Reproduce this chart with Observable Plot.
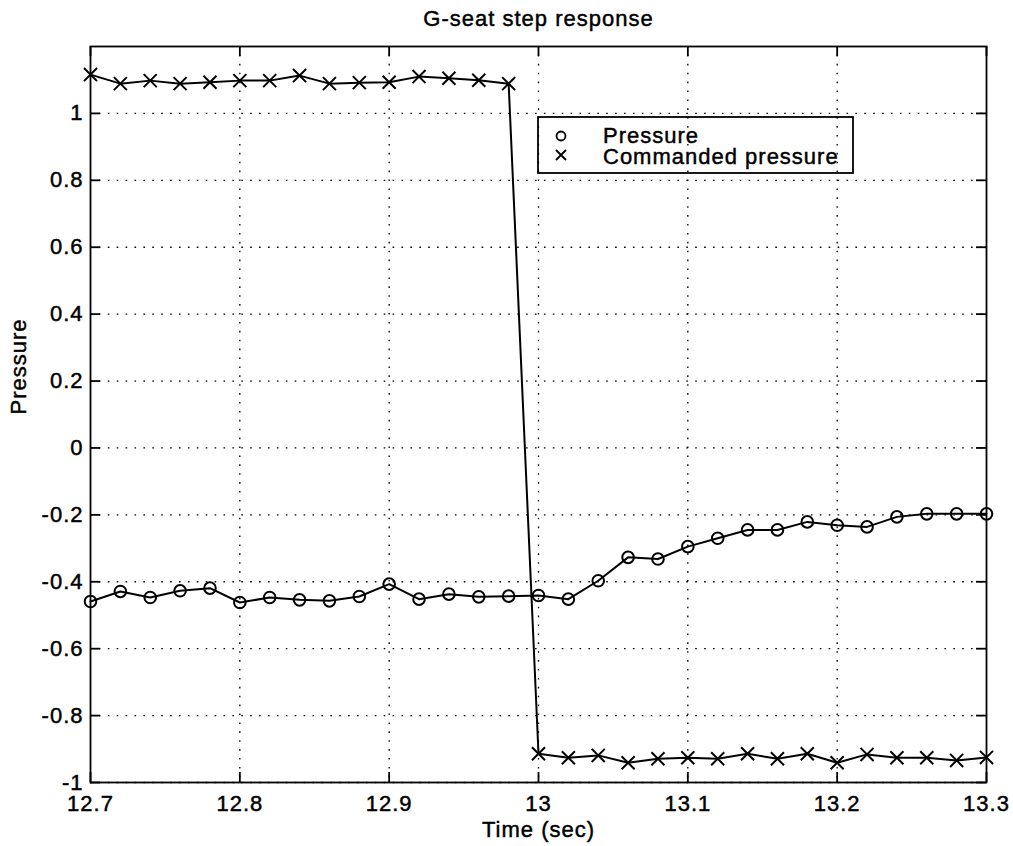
<!DOCTYPE html>
<html>
<head>
<meta charset="utf-8">
<script src="https://cdn.jsdelivr.net/npm/d3@7"></script>
<script src="https://cdn.jsdelivr.net/npm/@observablehq/plot@0.6"></script>
<style>
  html, body { margin: 0; padding: 0; background: #fff; }
  #chart svg { display: block; }
  #chart svg text { stroke: black; stroke-width: 0.45px; }
</style>
</head>
<body>
<div id="chart"></div>
<script>
const titleText = "G-seat step response";
const xLabel = "Time (sec)";
const yLabel = "Pressure";
const seriesNames = ["Pressure", "Commanded pressure"];

const time = [12.70, 12.72, 12.74, 12.76, 12.78, 12.80, 12.82, 12.84, 12.86, 12.88,
              12.90, 12.92, 12.94, 12.96, 12.98, 13.00, 13.02, 13.04, 13.06, 13.08,
              13.10, 13.12, 13.14, 13.16, 13.18, 13.20, 13.22, 13.24, 13.26, 13.28, 13.30];

const pressure = [-0.459, -0.429, -0.447, -0.427, -0.419, -0.462, -0.447, -0.454, -0.457, -0.444,
                  -0.407, -0.452, -0.437, -0.445, -0.443, -0.441, -0.452, -0.397, -0.327, -0.332,
                  -0.295, -0.270, -0.245, -0.245, -0.221, -0.231, -0.236, -0.206, -0.197, -0.197, -0.197];

const commanded = [1.116, 1.089, 1.098, 1.089, 1.093, 1.098, 1.098, 1.113, 1.089, 1.092,
                   1.093, 1.110, 1.105, 1.099, 1.089, -0.914, -0.926, -0.919, -0.941, -0.929,
                   -0.926, -0.929, -0.914, -0.929, -0.914, -0.941, -0.916, -0.926, -0.926, -0.934, -0.925];

const xTicks = [12.7, 12.8, 12.9, 13, 13.1, 13.2, 13.3];
const yTicks = [-1, -0.8, -0.6, -0.4, -0.2, 0, 0.2, 0.4, 0.6, 0.8, 1];

const pressureData = time.map((t, i) => ({t, v: pressure[i]}));
const commandedData = time.map((t, i) => ({t, v: commanded[i]}));

const W = 1013, H = 846;
const mL = 90, mR = 27, mT = 46, mB = 64;
const plotW = W - mL - mR, plotH = H - mT - mB;
const tickLen = 10;
const grid = {stroke: "black", strokeWidth: 1.3, strokeDasharray: "1.6,7.3"};
const fontStyle = {fontFamily: "'Liberation Sans', Arial, Helvetica, sans-serif", fontSize: "22px", letterSpacing: "1px", color: "black", background: "white"};

const chart = Plot.plot({
  width: W, height: H,
  marginLeft: mL, marginRight: mR, marginTop: mT, marginBottom: mB,
  style: fontStyle,
  x: {domain: [12.7, 13.3]},
  y: {domain: [-1, 1.2]},
  marks: [
    // dotted grid
    Plot.ruleX(xTicks.slice(1, -1), grid),
    Plot.ruleY(yTicks, grid),
    // inward ticks
    Plot.ruleX(xTicks, {stroke: "black", strokeWidth: 1.8, insetTop: plotH - tickLen}),
    Plot.ruleX(xTicks, {stroke: "black", strokeWidth: 1.8, insetBottom: plotH - tickLen}),
    Plot.ruleY(yTicks, {stroke: "black", strokeWidth: 1.8, insetRight: plotW - tickLen}),
    Plot.ruleY(yTicks, {stroke: "black", strokeWidth: 1.8, insetLeft: plotW - tickLen}),
    Plot.frame({stroke: "black", strokeWidth: 1.8}),
    // tick labels
    Plot.axisX(xTicks, {anchor: "bottom", tickSize: 0, tickPadding: 13, tickFormat: d => String(d), fontSize: 22, label: null}),
    Plot.axisY(yTicks, {anchor: "left", tickSize: 0, tickPadding: 7, tickFormat: d => String(d), fontSize: 22, label: null}),
    // series
    Plot.line(pressureData, {x: "t", y: "v", stroke: "black", strokeWidth: 2}),
    Plot.dot(pressureData, {x: "t", y: "v", r: 5.8, stroke: "black", strokeWidth: 2, fill: "none"}),
    Plot.line(commandedData, {x: "t", y: "v", stroke: "black", strokeWidth: 2}),
    Plot.dot(commandedData, {x: "t", y: "v", r: 6, symbol: "times", stroke: "black", strokeWidth: 2}),
    // title and axis labels
    Plot.text([titleText], {frameAnchor: "top", lineAnchor: "middle", dy: -28, fontSize: 22, fill: "black"}),
    Plot.text([xLabel], {frameAnchor: "bottom", lineAnchor: "middle", dy: 47, fontSize: 22, fill: "black"}),
    Plot.text([yLabel], {frameAnchor: "left", lineAnchor: "middle", dx: -72, rotate: -90, fontSize: 22, fill: "black"})
  ]
});

document.getElementById("chart").appendChild(chart);

// legend box (MATLAB style, drawn inside the axes)
const svg = d3.select(chart);
const lg = svg.append("g").attr("class", "legend")
  .attr("font-family", "'Liberation Sans', Arial, Helvetica, sans-serif")
  .attr("font-size", 22).attr("letter-spacing", "1px")
  .attr("text-anchor", "start");
lg.append("rect").attr("x", 538).attr("y", 117).attr("width", 315).attr("height", 56)
  .attr("fill", "none").attr("stroke", "black").attr("stroke-width", 1.8);
lg.append("circle").attr("cx", 561).attr("cy", 136).attr("r", 4.5)
  .attr("fill", "none").attr("stroke", "black").attr("stroke-width", 1.8);
lg.append("path").attr("d", "M556,150L566,160M556,160L566,150")
  .attr("stroke", "black").attr("stroke-width", 1.8);
lg.append("text").attr("x", 603).attr("y", 143).attr("fill", "black").attr("text-anchor", "start").text(seriesNames[0]);
lg.append("text").attr("x", 603).attr("y", 164).attr("fill", "black").attr("text-anchor", "start").text(seriesNames[1]);
</script>
</body>
</html>
